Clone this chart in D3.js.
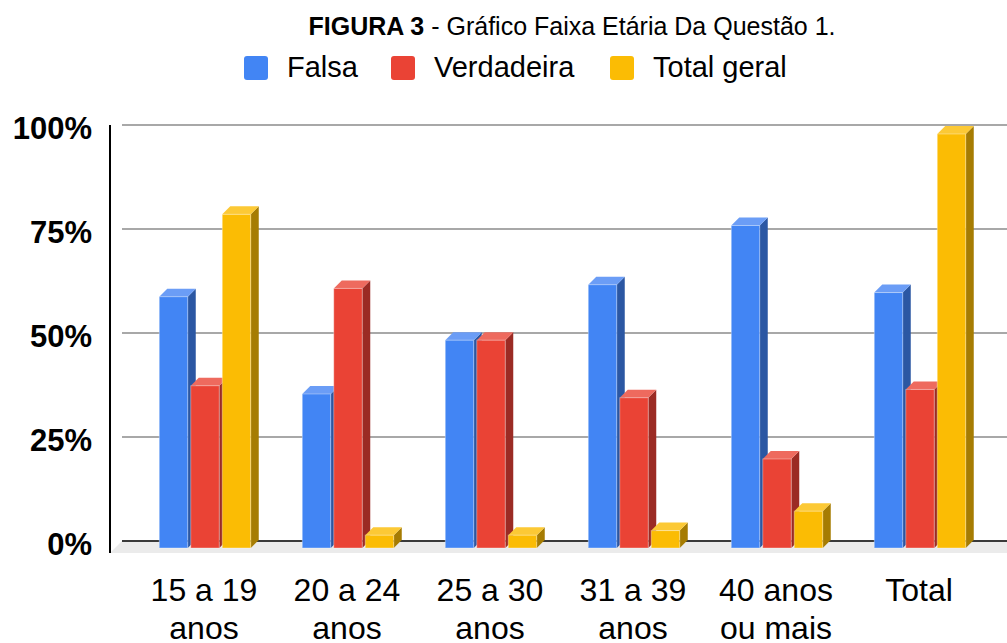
<!DOCTYPE html>
<html>
<head>
<meta charset="utf-8">
<script src="https://cdn.jsdelivr.net/npm/d3@7"></script>
<style>
  body { margin: 0; background: #fff; }
  svg { display: block; font-family: "Liberation Sans", Arial, sans-serif; }
</style>
</head>
<body>
<div id="chart"></div>
<script>
// data (percent)
const categories = ["15 a 19 anos", "20 a 24 anos", "25 a 30 anos", "31 a 39 anos", "40 anos ou mais", "Total"];
const tickLabels = [["15 a 19", "anos"], ["20 a 24", "anos"], ["25 a 30", "anos"], ["31 a 39", "anos"], ["40 anos", "ou mais"], ["Total"]];
const series = ["Falsa", "Verdadeira", "Total geral"];
const falsa = [60.7, 37.2, 50.2, 63.6, 77.9, 61.7];
const verdadeira = [39.2, 62.7, 50.2, 36.3, 21.5, 38.3];
const totalGeral = [80.6, 3.1, 3.1, 4.2, 8.9, 100];
const yTicks = [0, 25, 50, 75, 100];

const values = [falsa, verdadeira, totalGeral];
const colors = {
  "Falsa": { front: "#4285f4", side: "#2b57a3", top: "#6b9df6" },
  "Verdadeira": { front: "#ea4335", side: "#9b2b24", top: "#ee6a5e" },
  "Total geral": { front: "#fbbc04", side: "#a67c02", top: "#fcc935" }
};

const width = 1007, height = 643;
const depth = 8;

const svg = d3.select("#chart").append("svg")
  .attr("width", width).attr("height", height);

// back plane (gridlines) and front plane (bar faces)
const y = d3.scaleLinear().domain([0, 100]).range([541, 125]);
const yf = d3.scaleLinear().domain([0, 100]).range([548, 134]);

const x0 = d3.scaleBand().domain(categories).range([133.5, 991.5]).padding(0);
const x1 = d3.scaleBand().domain(series).range([25.75, 117.25]).paddingInner(0.095);

// title
const title = svg.append("text")
  .attr("x", 572).attr("y", 35)
  .attr("text-anchor", "middle")
  .attr("font-size", 25).attr("fill", "#000");
title.append("tspan").attr("font-weight", "bold").text("FIGURA 3");
title.append("tspan").text(" - Gráfico Faixa Etária Da Questão 1.");

// legend
const legendX = [244, 391, 610];
const legend = svg.append("g").selectAll("g").data(series).join("g")
  .attr("transform", (d, i) => `translate(${legendX[i]},56)`);
legend.append("rect")
  .attr("width", 24).attr("height", 24).attr("rx", 3)
  .attr("fill", d => colors[d].front);
legend.append("text")
  .attr("x", 43).attr("y", 21)
  .attr("font-size", 29).attr("fill", "#000")
  .text(d => d);

// floor
const floorBack = y(0), floorFront = y(0) + 12;
svg.append("path")
  .attr("d", `M122,${floorBack}L${width},${floorBack}L${width},${floorFront}L110,${floorFront}Z`)
  .attr("fill", "#ebebeb");

// gridlines
svg.append("g").selectAll("line").data(yTicks).join("line")
  .attr("x1", 122).attr("x2", width)
  .attr("y1", d => y(d)).attr("y2", d => y(d))
  .attr("stroke", d => d === 0 ? "#3a3a3a" : "#a8a8a8")
  .attr("stroke-width", 2);

// y axis
svg.append("line")
  .attr("x1", 110).attr("x2", 110)
  .attr("y1", y(100)).attr("y2", floorFront)
  .attr("stroke", "#000").attr("stroke-width", 2);

svg.append("g").selectAll("text").data(yTicks).join("text")
  .attr("x", 92).attr("y", d => y(d) + 14)
  .attr("text-anchor", "end")
  .attr("font-size", 31).attr("font-weight", "bold").attr("fill", "#000")
  .text(d => d + "%");

// bars
const bars = [];
categories.forEach((c, ci) => {
  series.forEach((s, si) => {
    bars.push({ cat: c, key: s, value: values[si][ci] });
  });
});

const bw = x1.bandwidth();
const barG = svg.append("g").selectAll("g").data(bars).join("g");

barG.each(function (d) {
  const g = d3.select(this);
  const xl = x0(d.cat) + x1(d.key);
  const xr = xl + bw;
  const yt = yf(d.value), yb = yf(0);
  const c = colors[d.key];
  g.append("path")
    .attr("d", `M${xr},${yt}L${xr + depth},${yt - depth}L${xr + depth},${yb - depth}L${xr},${yb}Z`)
    .attr("fill", c.side);
  g.append("path")
    .attr("d", `M${xl},${yt}L${xl + depth},${yt - depth}L${xr + depth},${yt - depth}L${xr},${yt}Z`)
    .attr("fill", c.top);
  g.append("rect")
    .attr("x", xl).attr("y", yt)
    .attr("width", bw).attr("height", yb - yt)
    .attr("fill", c.front)
    .attr("stroke", "rgba(255,255,255,0.35)").attr("stroke-width", 1);
});

// x labels
const xl = svg.append("g").selectAll("text").data(categories).join("text")
  .attr("text-anchor", "middle")
  .attr("font-size", 32).attr("fill", "#000")
  .attr("x", d => x0(d) + x0.bandwidth() / 2 - 1);
xl.selectAll("tspan").data((d, i) => tickLabels[i]).join("tspan")
  .attr("x", function () { return d3.select(this.parentNode).attr("x"); })
  .attr("y", (d, i) => 601 + i * 38)
  .text(d => d);
</script>
</body>
</html>
